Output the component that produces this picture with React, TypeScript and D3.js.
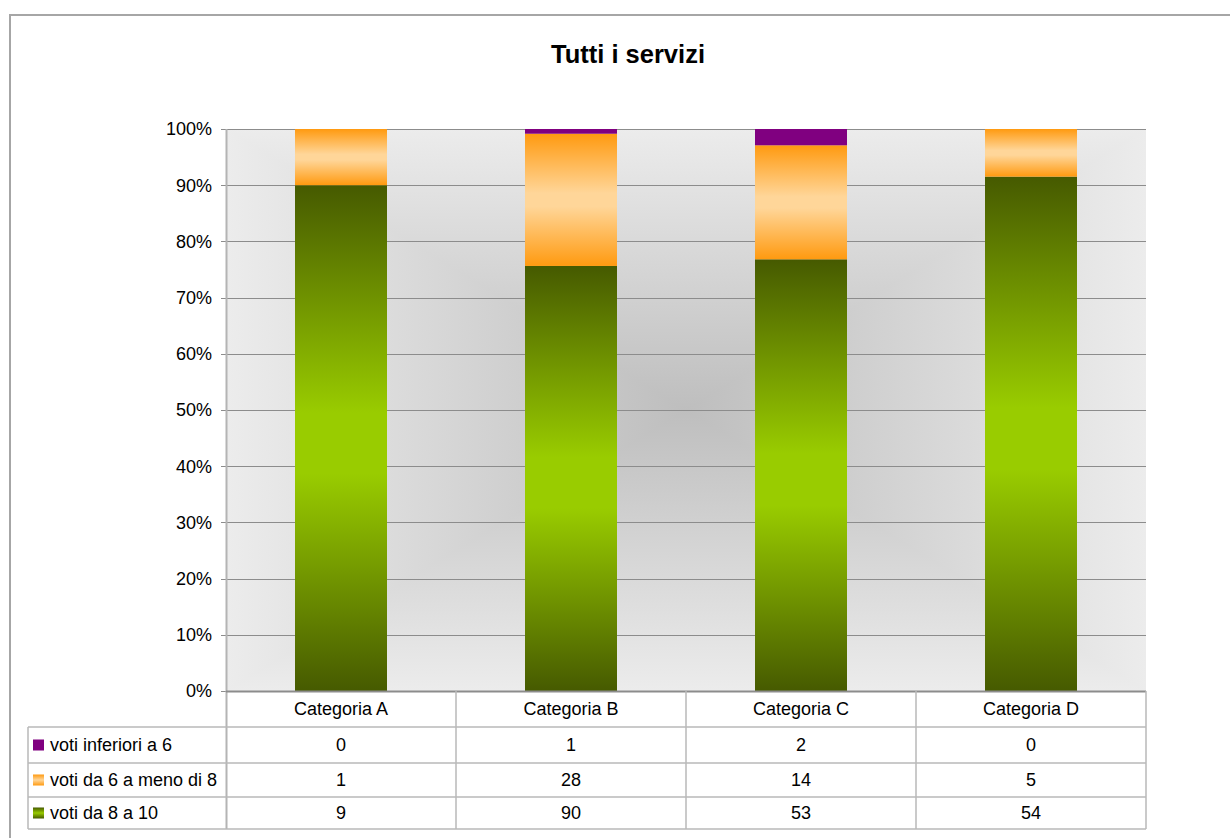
import * as d3 from 'd3';

const categories = ['Categoria A', 'Categoria B', 'Categoria C', 'Categoria D'];
const seriesNames = ['voti inferiori a 6', 'voti da 6 a meno di 8', 'voti da 8 a 10'];
const votiInferiori6 = [0, 1, 2, 0];
const votiDa6a8 = [1, 28, 14, 5];
const votiDa8a10 = [9, 90, 53, 54];
const yTicks = [0, 0.1, 0.2, 0.3, 0.4, 0.5, 0.6, 0.7, 0.8, 0.9, 1];

const W = 1230;
const H = 838;
const PLOT = { left: 226, right: 1146, top: 129, bottom: 691 };
const TABLE_ROWS = [691, 727, 763, 797, 829];
const LEGEND_LEFT = 28;
const FONT = '"Liberation Sans", Arial, sans-serif';

type Row = { cat: string; low: number; mid: number; high: number };

const rows: Row[] = categories.map((cat, i) => ({
  cat,
  low: votiInferiori6[i],
  mid: votiDa6a8[i],
  high: votiDa8a10[i],
}));

// bottom to top: green, orange, purple
const keys: (keyof Row)[] = ['high', 'mid', 'low'];
const fills: Record<string, string> = {
  high: 'url(#gGreen)',
  mid: 'url(#gOrange)',
  low: '#800080',
};

export default function App() {
  const x = d3
    .scaleBand<string>()
    .domain(categories)
    .range([PLOT.left, PLOT.right])
    .paddingInner(0)
    .paddingOuter(0);
  const y = d3.scaleLinear().domain([0, 1]).range([PLOT.bottom, PLOT.top]);

  const stack = d3
    .stack<Row>()
    .keys(keys as string[])
    .value((d, k) => d[k as keyof Row] as number)
    .offset(d3.stackOffsetExpand);
  const layers = stack(rows);

  const bw = x.bandwidth() * 0.4;
  const cx = (PLOT.left + PLOT.right) / 2;
  const cy = (PLOT.top + PLOT.bottom) / 2;

  // table rows top to bottom: purple, orange, green
  const tableSeries = [
    { name: seriesNames[0], values: votiInferiori6, swatch: '#800080' },
    { name: seriesNames[1], values: votiDa6a8, swatch: 'url(#gOrangeS)' },
    { name: seriesNames[2], values: votiDa8a10, swatch: 'url(#gGreenS)' },
  ];

  return (
    <svg
      width={W}
      height={H}
      style={{ position: 'absolute', left: 0, top: 0, background: '#fff' }}
      fontFamily={FONT}
    >
      <defs>
        <linearGradient id="gGreen" x1="0" y1="0" x2="0" y2="1">
          <stop offset="0" stopColor="#465a00" />
          <stop offset="0.45" stopColor="#99cc00" />
          <stop offset="0.57" stopColor="#99cc00" />
          <stop offset="1" stopColor="#465a00" />
        </linearGradient>
        <linearGradient id="gOrange" x1="0" y1="0" x2="0" y2="1">
          <stop offset="0" stopColor="#ff9a10" />
          <stop offset="0.45" stopColor="#ffd699" />
          <stop offset="0.55" stopColor="#ffd699" />
          <stop offset="1" stopColor="#ff9a10" />
        </linearGradient>
        <linearGradient id="gGreenS" x1="0" y1="0" x2="0" y2="1">
          <stop offset="0" stopColor="#465a00" />
          <stop offset="0.5" stopColor="#99cc00" />
          <stop offset="1" stopColor="#465a00" />
        </linearGradient>
        <linearGradient id="gOrangeS" x1="0" y1="0" x2="0" y2="1">
          <stop offset="0" stopColor="#ff9a10" />
          <stop offset="0.5" stopColor="#ffd699" />
          <stop offset="1" stopColor="#ff9a10" />
        </linearGradient>
        <linearGradient id="bgH" gradientUnits="userSpaceOnUse" x1={PLOT.left} y1="0" x2={PLOT.right} y2="0">
          <stop offset="0" stopColor="#ececec" />
          <stop offset="0.5" stopColor="#bebebe" />
          <stop offset="1" stopColor="#ececec" />
        </linearGradient>
        <linearGradient id="bgV" gradientUnits="userSpaceOnUse" x1="0" y1={PLOT.top} x2="0" y2={PLOT.bottom}>
          <stop offset="0" stopColor="#ececec" />
          <stop offset="0.5" stopColor="#bebebe" />
          <stop offset="1" stopColor="#ececec" />
        </linearGradient>
      </defs>

      {/* chart frame */}
      <rect x={10} y={15} width={W + 20} height={H + 20} fill="#fff" stroke="#a6a6a6" strokeWidth={2} />

      <text x={628} y={63} textAnchor="middle" fontSize={25.5} fontWeight="bold" fill="#000">
        Tutti i servizi
      </text>

      {/* plot background: rectangular from-center gradient */}
      <rect
        x={PLOT.left}
        y={PLOT.top}
        width={PLOT.right - PLOT.left}
        height={PLOT.bottom - PLOT.top}
        fill="url(#bgH)"
      />
      <polygon
        points={`${PLOT.left},${PLOT.top} ${PLOT.right},${PLOT.top} ${cx},${cy} ${PLOT.right},${PLOT.bottom} ${PLOT.left},${PLOT.bottom} ${cx},${cy}`}
        fill="url(#bgV)"
      />

      {/* gridlines */}
      {yTicks.map((t) => (
        <line
          key={t}
          x1={PLOT.left - 5}
          x2={PLOT.right}
          y1={Math.round(y(t)) + 0.5}
          y2={Math.round(y(t)) + 0.5}
          stroke="#8c8c8c"
          strokeWidth={1}
        />
      ))}
      {yTicks.map((t) => (
        <text
          key={`l${t}`}
          x={212}
          y={y(t)}
          dy="0.35em"
          textAnchor="end"
          fontSize={18}
          fill="#000"
        >
          {d3.format('.0%')(t)}
        </text>
      ))}

      {/* bars */}
      {layers.map((layer) => (
        <g key={layer.key} fill={fills[layer.key]}>
          {layer.map((d, i) => {
            const h = y(d[0]) - y(d[1]);
            if (h <= 0) return null;
            return (
              <rect
                key={i}
                x={(x(d.data.cat) ?? 0) + (x.bandwidth() - bw) / 2}
                y={y(d[1])}
                width={bw}
                height={h}
              />
            );
          })}
        </g>
      ))}

      {/* axes */}
      <line x1={PLOT.left + 0.5} x2={PLOT.left + 0.5} y1={PLOT.top} y2={TABLE_ROWS[4]} stroke="#b4b4b4" strokeWidth={2} />
      <line x1={PLOT.left} x2={PLOT.right} y1={PLOT.bottom + 0.5} y2={PLOT.bottom + 0.5} stroke="#8c8c8c" strokeWidth={2} />

      {/* data table */}
      <g stroke="#b8b8b8" strokeWidth={1.5} fill="none">
        {TABLE_ROWS.slice(1).map((ty) => (
          <line key={ty} x1={LEGEND_LEFT} x2={PLOT.right} y1={ty} y2={ty} />
        ))}
        <line x1={LEGEND_LEFT} x2={LEGEND_LEFT} y1={TABLE_ROWS[1]} y2={TABLE_ROWS[4]} />
        {categories.map((c) => (
          <line key={c} x1={(x(c) ?? 0) + x.bandwidth()} x2={(x(c) ?? 0) + x.bandwidth()} y1={TABLE_ROWS[0]} y2={TABLE_ROWS[4]} />
        ))}
      </g>
      {categories.map((c) => (
        <text
          key={c}
          x={(x(c) ?? 0) + x.bandwidth() / 2}
          y={(TABLE_ROWS[0] + TABLE_ROWS[1]) / 2}
          dy="0.35em"
          textAnchor="middle"
          fontSize={18}
        >
          {c}
        </text>
      ))}
      {tableSeries.map((s, r) => {
        const my = (TABLE_ROWS[r + 1] + TABLE_ROWS[r + 2]) / 2;
        return (
          <g key={s.name}>
            <rect x={33} y={my - 5.5} width={11} height={11} fill={s.swatch} />
            <text x={50} y={my} dy="0.35em" fontSize={18}>
              {s.name}
            </text>
            {s.values.map((v, i) => (
              <text
                key={i}
                x={(x(categories[i]) ?? 0) + x.bandwidth() / 2}
                y={my}
                dy="0.35em"
                textAnchor="middle"
                fontSize={18}
              >
                {v}
              </text>
            ))}
          </g>
        );
      })}
    </svg>
  );
}
